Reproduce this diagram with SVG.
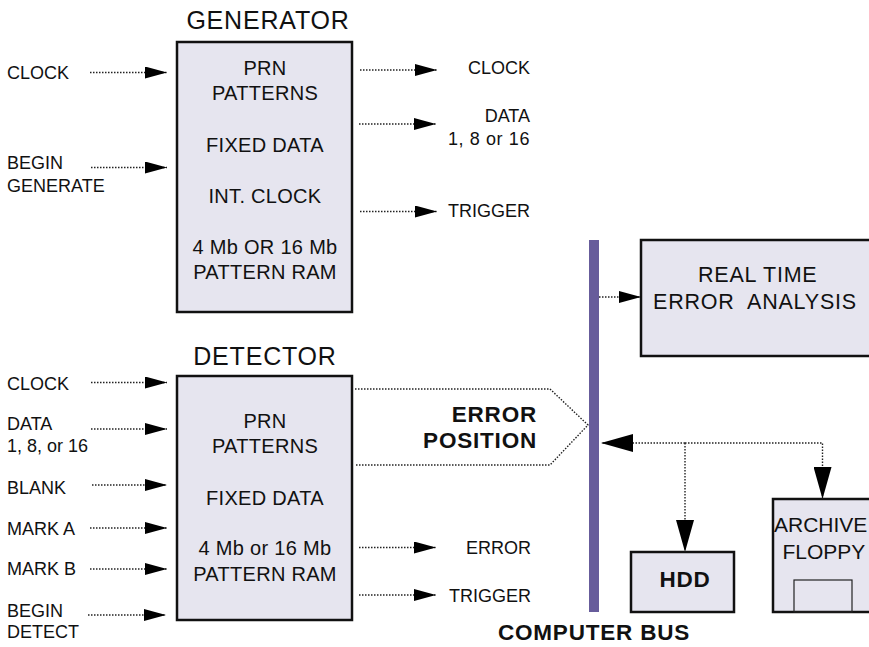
<svg xmlns="http://www.w3.org/2000/svg" width="869" height="647" viewBox="0 0 869 647">
  <style>
    text { font-family: "Liberation Sans", Arial, Helvetica, sans-serif; fill: #111; }
    .title { font-size: 25px; text-anchor: middle; letter-spacing: 0.8px; }
    .body { font-size: 20px; text-anchor: middle; letter-spacing: 0.3px; }
    .big { font-size: 21.5px; text-anchor: start; letter-spacing: 0.8px; }
    .side { font-size: 21px; text-anchor: start; letter-spacing: 0; }
    .lbl { font-size: 18px; }
    .out { font-size: 18px; text-anchor: end; }
    .bold { font-weight: bold; font-size: 22.5px; letter-spacing: 0.8px; }
    .box { fill: #e6e5ef; stroke: #111; stroke-width: 2.5; }
    .thin { fill: none; stroke: #222; stroke-width: 1.2; }
    .dot { fill: none; stroke: #222; stroke-width: 1.4; stroke-dasharray: 1.5 1.5; }
    .arr { marker-end: url(#head); }
    .arrbig { marker-end: url(#headBig); }
  </style>
  <defs>
    <marker id="head" markerUnits="userSpaceOnUse" markerWidth="22" markerHeight="12" refX="22" refY="6" orient="auto">
      <path d="M0,0 L22,6 L0,12 Z" fill="#000"/>
    </marker>
    <marker id="headBig" markerUnits="userSpaceOnUse" markerWidth="32" markerHeight="18" refX="32" refY="9" orient="auto">
      <path d="M0,0 L32,9 L0,18 Z" fill="#000"/>
    </marker>
  </defs>

  <!-- Generator block -->
  <g id="generator">
    <text class="title" x="268" y="28.5">GENERATOR</text>
    <rect class="box" x="177" y="42" width="175" height="270"/>
    <text class="body" x="265" y="75">PRN</text>
    <text class="body" x="265" y="100">PATTERNS</text>
    <text class="body" x="265" y="151.5">FIXED DATA</text>
    <text class="body" x="265" y="203">INT. CLOCK</text>
    <text class="body" x="265" y="253.5">4 Mb OR 16 Mb</text>
    <text class="body" x="265" y="279">PATTERN RAM</text>
  </g>

  <!-- Detector block -->
  <g id="detector">
    <text class="title" x="265" y="365">DETECTOR</text>
    <rect class="box" x="177" y="376" width="175" height="244"/>
    <text class="body" x="265" y="428">PRN</text>
    <text class="body" x="265" y="453">PATTERNS</text>
    <text class="body" x="265" y="505">FIXED DATA</text>
    <text class="body" x="265" y="555">4 Mb or 16 Mb</text>
    <text class="body" x="265" y="580.5">PATTERN RAM</text>
  </g>

  <!-- Computer bus -->
  <g id="bus">
    <rect x="589" y="240" width="10" height="372" fill="#675c9b"/>
    <text class="bold" x="594" y="640" text-anchor="middle">COMPUTER BUS</text>
  </g>

  <!-- Real time error analysis -->
  <g id="realtime">
    <rect class="box" x="641" y="240" width="240" height="116"/>
    <text class="big" x="698" y="281.5">REAL TIME</text>
    <text class="big" x="653" y="308.5" xml:space="preserve">ERROR  ANALYSIS</text>
  </g>

  <!-- Hard disk -->
  <g id="hdd">
    <rect class="box" x="631" y="552" width="103" height="60"/>
    <text class="bold" x="685" y="587" text-anchor="middle">HDD</text>
  </g>

  <!-- Archive floppy -->
  <g id="floppy">
    <rect class="box" x="773" y="499" width="120" height="113"/>
    <text class="side" x="774" y="531.5">ARCHIVE</text>
    <text class="side" x="782.5" y="558.5">FLOPPY</text>
    <rect class="thin" x="794" y="580" width="58" height="32"/>
  </g>

  <!-- Signal labels -->
  <g id="labels">
    <text class="lbl" x="7" y="78.5">CLOCK</text>
    <text class="lbl" x="7" y="168.5">BEGIN</text>
    <text class="lbl" x="7" y="191.5">GENERATE</text>
    <text class="out" x="530" y="74">CLOCK</text>
    <text class="out" x="530" y="121.5">DATA</text>
    <text class="out" x="530" y="145" style="letter-spacing:0.6px">1, 8 or 16</text>
    <text class="out" x="530" y="216.5">TRIGGER</text>

    <text class="lbl" x="7" y="390">CLOCK</text>
    <text class="lbl" x="7" y="430">DATA</text>
    <text class="lbl" x="7" y="451.5">1, 8, or 16</text>
    <text class="lbl" x="7" y="494">BLANK</text>
    <text class="lbl" x="7" y="535">MARK A</text>
    <text class="lbl" x="7" y="575">MARK B</text>
    <text class="lbl" x="7" y="617">BEGIN</text>
    <text class="lbl" x="7" y="638">DETECT</text>
    <text class="out" x="531" y="554">ERROR</text>
    <text class="out" x="531" y="601.5">TRIGGER</text>

    <text class="bold" x="537" y="421.5" text-anchor="end">ERROR</text>
    <text class="bold" x="537" y="448" text-anchor="end">POSITION</text>
  </g>

  <!-- Connectors -->
  <g id="connectors">
    <!-- generator inputs -->
    <path class="dot arr" d="M90,72.5 H167"/>
    <path class="dot arr" d="M91,167.5 H167"/>
    <!-- generator outputs -->
    <path class="dot arr" d="M360,70 H437"/>
    <path class="dot arr" d="M359,124 H436"/>
    <path class="dot arr" d="M360,211.5 H437"/>
    <!-- detector inputs -->
    <path class="dot arr" d="M91,382.5 H167"/>
    <path class="dot arr" d="M91,429 H167"/>
    <path class="dot arr" d="M92,485 H167"/>
    <path class="dot arr" d="M90,528 H167"/>
    <path class="dot arr" d="M90,569 H167"/>
    <path class="dot arr" d="M88,615 H166"/>
    <!-- detector outputs -->
    <path class="dot arr" d="M359,547.5 H436"/>
    <path class="dot arr" d="M359,595 H436"/>
    <!-- error position to bus -->
    <path class="dot" d="M355,389 H550 L588,425 L550,465 H355"/>
    <!-- bus to real time analysis -->
    <path class="dot arr" d="M599,297 H641"/>
    <!-- bus to storage -->
    <path class="dot arrbig" d="M685,443 H601"/>
    <path class="dot arrbig" d="M685,443 V552"/>
    <path class="dot arrbig" d="M685,443 H822.5 V499"/>
  </g>
</svg>
